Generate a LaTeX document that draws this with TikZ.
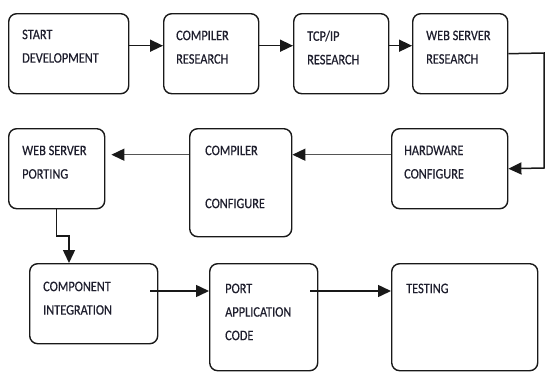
\documentclass[tikz,border=0pt]{standalone}
\usepackage{fontspec}
\setmainfont{Carlito}[FakeStretch=0.85, FakeBold=0.5]
\usetikzlibrary{arrows.meta}
\tikzstyle{plan} = [x = 1pt, y = -1pt]
\definecolor{lineColor}{RGB}{25,25,25}
\definecolor{softLineColor}{RGB}{85,85,85}
\definecolor{textColor}{RGB}{30,30,45}
\tikzstyle{boxStyle} = [draw=lineColor, rounded corners = 8pt, line width = 1.4pt, inner sep = 0pt, anchor = north west]
\tikzstyle{boxText} = [font=\fontsize{14.5}{23.5}\selectfont, text=textColor, align=left, anchor=north west, inner sep=0pt]
\tikzstyle{flowArrow} = [draw=lineColor, line width=1.5pt, -{Triangle[length=13pt, width=12pt, color=lineColor]}]
\tikzstyle{softArrow} = [flowArrow, draw=softLineColor]
\newcommand{\flowBox}[5]{\node [boxStyle, minimum width = #4pt, minimum height = #5pt] (#1) at (#2, #3) {};}
\newcommand{\boxLabel}[4]{\node [boxText] (#1) at (#2, #3) {#4};}

\begin{document}
\begin{tikzpicture}[plan]
  \useasboundingbox (0,0) rectangle (545,372);

  % boxes
  \flowBox{start}{8}{13}{120}{80}
  \flowBox{compResearch}{163}{13}{95}{80}
  \flowBox{tcpResearch}{293}{13}{95}{80}
  \flowBox{webResearch}{412}{13}{95}{80}
  \flowBox{webPorting}{8}{128}{96}{80}
  \flowBox{compConfig}{189}{128}{102}{108}
  \flowBox{hwConfig}{391}{128}{116}{80}
  \flowBox{integration}{29}{263}{128}{80}
  \flowBox{portCode}{209}{263}{108}{107}
  \flowBox{testing}{391}{263}{146}{107}

  % texts
  \boxLabel{startText}{22}{29.5}{START\\DEVELOPMENT}
  \boxLabel{compResearchText}{176}{30.5}{COMPILER\\RESEARCH}
  \boxLabel{tcpResearchText}{307}{30.5}{TCP/IP\\RESEARCH}
  \boxLabel{webResearchText}{426}{30.5}{WEB SERVER\\RESEARCH}
  \boxLabel{webPortingText}{22}{145.5}{WEB SERVER\\PORTING}
  \boxLabel{compConfigText}{205}{145.5}{COMPILER\\[29.5pt]CONFIGURE}
  \boxLabel{hwConfigText}{404}{145.5}{HARDWARE\\CONFIGURE}
  \boxLabel{integrationText}{43}{281.5}{COMPONENT\\INTEGRATION}
  \boxLabel{portCodeText}{225}{283.5}{PORT\\APPLICATION\\CODE}
  \boxLabel{testingText}{406}{283.5}{TESTING}

  % connectors
  \draw [flowArrow] ([yshift=8pt]start.east) -- ([yshift=8pt]compResearch.west);
  \draw [flowArrow] ([yshift=8pt]compResearch.east) -- ([yshift=8pt]tcpResearch.west);
  \draw [flowArrow] ([yshift=8pt]tcpResearch.east) -- ([yshift=8pt]webResearch.west);

  \coordinate (turnTop) at (544, 53);
  \coordinate (turnBottom) at (544, 168);
  \draw [flowArrow] (webResearch.east) -- (turnTop) -- (turnBottom) -- (hwConfig.east);

  \coordinate (hwOut) at ([yshift=14pt]hwConfig.west);
  \draw [softArrow] (hwOut) -- (hwOut -| compConfig.east);
  \coordinate (compOut) at ([yshift=28pt]compConfig.west);
  \draw [softArrow, shorten >= 6pt] (compOut) -- (compOut -| webPorting.east);

  \coordinate (portBend) at (69, 236);
  \draw [flowArrow] (webPorting.south) |- (portBend) -- (portBend |- integration.north);

  \coordinate (integrationOut) at (150, 291);
  \draw [flowArrow] (integrationOut) -- (integrationOut -| portCode.west);
  \coordinate (portOut) at (310, 291);
  \draw [flowArrow] (portOut) -- (portOut -| testing.west);
\end{tikzpicture}
\end{document}
